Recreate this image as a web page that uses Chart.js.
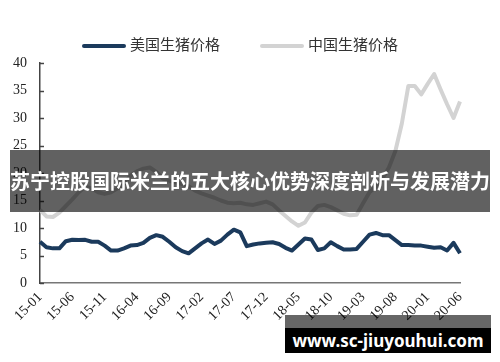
<!DOCTYPE html>
<html>
<head>
<meta charset="utf-8">
<script src="https://cdn.jsdelivr.net/npm/chart.js@4.4.0/dist/chart.umd.min.js"></script>
<style>
  body { margin: 0; background: #fff; }
  #wrap { position: relative; width: 500px; height: 362px; overflow: hidden; }
  canvas { position: absolute; left: 0; top: 0; }
  .leg { position: absolute; top: 34px; font: 15px "Noto Sans CJK SC", sans-serif; color: #333; line-height: 20px; white-space: nowrap; }
  .leg i { display: inline-block; width: 44px; height: 4px; vertical-align: middle; margin-right: 4px; border-radius: 2px; }
  #banner { position: absolute; left: 10px; top: 150px; width: 480px; height: 62px; background: rgba(0,0,0,0.62);
            color: #fff; font: bold 20px "Noto Sans CJK SC", sans-serif; line-height: 62px; text-align: center; white-space: nowrap; }
  #mark1 { position: absolute; left: 285px; top: 315px; width: 206px; height: 13px; background: rgba(0,0,0,0.6); }
  #mark2 { position: absolute; left: 285px; top: 328px; width: 206px; height: 25px; background: #000;
           color: #fff; font: bold 17px "Noto Sans", sans-serif; line-height: 25px; text-align: center; }
</style>
</head>
<body>
<div id="wrap">
  <canvas id="chart" width="500" height="362"></canvas>
  <div class="leg" id="leg0" style="left:82px"></div>
  <div class="leg" id="leg1" style="left:260px"></div>
  <div id="banner">苏宁控股国际米兰的五大核心优势深度剖析与发展潜力</div>
  <div id="mark1"></div>
  <div id="mark2">www.sc-jiuyouhui.com</div>
</div>
<script>
// months 2015-01 .. 2020-06
const months = [
  '15-01','15-02','15-03','15-04','15-05','15-06','15-07','15-08','15-09','15-10','15-11','15-12',
  '16-01','16-02','16-03','16-04','16-05','16-06','16-07','16-08','16-09','16-10','16-11','16-12',
  '17-01','17-02','17-03','17-04','17-05','17-06','17-07','17-08','17-09','17-10','17-11','17-12',
  '18-01','18-02','18-03','18-04','18-05','18-06','18-07','18-08','18-09','18-10','18-11','18-12',
  '19-01','19-02','19-03','19-04','19-05','19-06','19-07','19-08','19-09','19-10','19-11','19-12',
  '20-01','20-02','20-03','20-04','20-05','20-06'
];
const tickLabels = ['15-01','15-06','15-11','16-04','16-09','17-02','17-07','17-12','18-05','18-10','19-03','19-08','20-01','20-06'];

const seriesNames = ['美国生猪价格', '中国生猪价格'];
const seriesColors = ['#1b3a5c', '#d3d3d3'];

const usPrice = [
  7.5, 6.5, 6.3, 6.3, 7.6, 7.85, 7.8, 7.85, 7.5, 7.5,
  6.8, 5.9, 5.9, 6.3, 6.8, 6.9, 7.3, 8.2, 8.7, 8.4,
  7.5, 6.5, 5.8, 5.4, 6.3, 7.2, 7.9, 7.1, 7.7, 8.8,
  9.7, 9.2, 6.7, 7.0, 7.2, 7.3, 7.4, 7.1, 6.4, 5.9,
  7.0, 8.1, 7.9, 6.0, 6.3, 7.4, 6.7, 6.1, 6.1, 6.2,
  7.5, 8.8, 9.1, 8.7, 8.7, 7.8, 6.9, 6.9, 6.8, 6.8,
  6.6, 6.4, 6.5, 5.9, 7.3, 5.4
];
const cnPrice = [
  13.3, 12.1, 12.0, 12.8, 14.0, 15.2, 16.5, 17.5, 17.2, 16.5,
  16.2, 16.5, 17.2, 18.0, 19.5, 20.3, 20.8, 21.0, 20.2, 19.0,
  18.6, 18.3, 18.0, 17.6, 16.8, 16.3, 15.9, 15.5, 15.0, 14.6,
  14.5, 14.6, 14.3, 14.2, 14.5, 14.8, 14.3, 13.2, 12.2, 11.2,
  10.4, 11.0, 12.8, 14.0, 14.2, 13.8, 13.2, 12.6, 12.3, 12.4,
  14.5, 16.5, 17.5, 19.0, 21.0, 24.0, 29.0, 35.8, 35.8, 34.3,
  36.2, 38.0, 35.2, 32.5, 30.0, 33.0
];

seriesNames.forEach((n, i) => {
  document.getElementById('leg' + i).innerHTML = '<i style="background:' + seriesColors[i] + '"></i>' + n;
});

// small tick marks pointing into the plot, like the original
const innerTicks = {
  id: 'innerTicks',
  afterDraw(chart) {
    const y = chart.scales.y;
    const ctx = chart.ctx;
    ctx.save();
    ctx.strokeStyle = '#444';
    ctx.lineWidth = 1.5;
    y.ticks.forEach(t => {
      const py = Math.round(y.getPixelForValue(t.value)) + 0.5;
      ctx.beginPath();
      ctx.moveTo(y.right, py);
      ctx.lineTo(y.right + 4, py);
      ctx.stroke();
    });
    ctx.restore();
  }
};

new Chart(document.getElementById('chart'), {
  type: 'line',
  data: {
    labels: months,
    datasets: [
      { label: seriesNames[1], data: cnPrice, borderColor: seriesColors[1], borderWidth: 4, pointRadius: 0, tension: 0, borderJoinStyle: 'round' },
      { label: seriesNames[0], data: usPrice, borderColor: seriesColors[0], borderWidth: 4, pointRadius: 0, tension: 0, borderJoinStyle: 'round' }
    ]
  },
  options: {
    responsive: false,
    animation: false,
    layout: { padding: { left: 0, right: 40, top: 63, bottom: 0 } },
    plugins: { legend: { display: false }, tooltip: { enabled: false } },
    scales: {
      x: {
        grid: { display: false, drawTicks: false },
        border: { display: true, color: '#777', width: 1.5 },
        afterFit: s => { s.height = 79; },
        ticks: {
          autoSkip: false,
          minRotation: 45,
          maxRotation: 45,
          padding: 6,
          color: '#222',
          font: { family: '"Liberation Serif", serif', size: 14 },
          callback: (v, i) => tickLabels.includes(months[i]) ? months[i] : ''
        }
      },
      y: {
        min: 0,
        max: 40,
        grid: { display: false, drawTicks: false },
        border: { display: true, color: '#444', width: 1.5 },
        afterFit: s => { s.width = 40; },
        ticks: {
          stepSize: 5,
          padding: 13,
          color: '#222',
          font: { family: '"Liberation Serif", serif', size: 14 }
        }
      }
    }
  },
  plugins: [innerTicks]
});
</script>
</body>
</html>
